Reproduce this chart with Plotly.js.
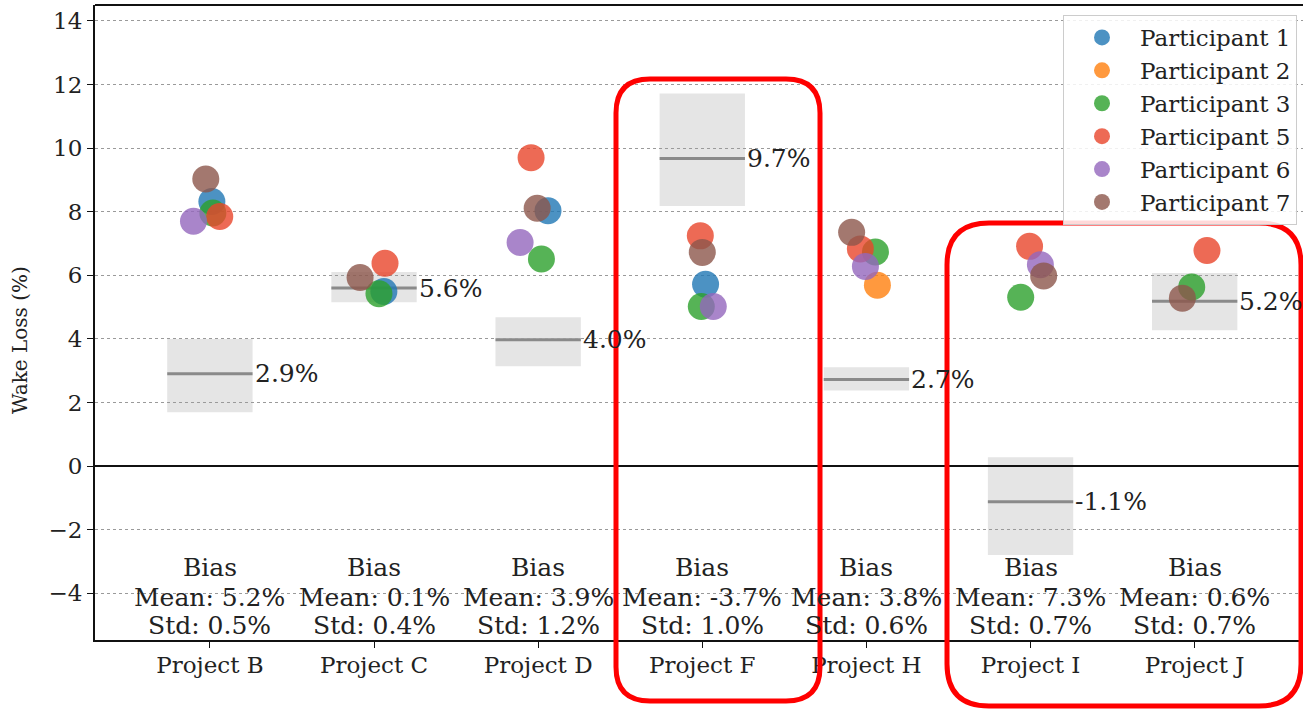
<!DOCTYPE html>
<html>
<head>
<meta charset="utf-8">
<script src="https://cdn.plot.ly/plotly-3.0.1.min.js"></script>
<style>html,body{margin:0;padding:0;background:#fff;}#chart{width:1303px;height:710px;}</style>
</head>
<body>
<div id="chart"></div>
<script>
// ---- data ----
const projects = ["Project B", "Project C", "Project D", "Project F", "Project H", "Project I", "Project J"];
const participants = ["Participant 1", "Participant 2", "Participant 3", "Participant 5", "Participant 6", "Participant 7"];
const colors = ["#1f77b4", "#ff7f0e", "#2ca02c", "#e8452a", "#9467bd", "#8c564b"];

// wake loss per participant per project (null = no value)
const p1 = [8.32, 5.49, 8.03, 5.72, null, null, null];
const p2 = [null, null, null, null, 5.69, null, null];
const p3 = [7.96, 5.42, 6.51, 5.02, 6.73, 5.31, 5.63];
const p5 = [7.85, 6.38, 9.70, 7.24, 6.83, 6.91, 6.78];
const p6 = [7.70, null, 7.03, 5.02, 6.28, 6.33, null];
const p7 = [9.03, 5.93, 8.11, 6.72, 7.35, 5.98, 5.28];
// strip-plot jitter (category units)
const j1 = [0.012, 0.06, 0.06, 0.02, 0, 0, 0];
const j2 = [0, 0, 0, 0, 0.067, 0, 0];
const j3 = [0.018, 0.03, 0.02, -0.006, 0.055, -0.06, -0.018];
const j5 = [0.06, 0.067, -0.043, -0.012, -0.037, -0.006, 0.075];
const j6 = [-0.10, 0, -0.11, 0.067, -0.006, 0.06, 0];
const j7 = [-0.025, -0.085, -0.006, 0, -0.09, 0.08, -0.075];

// reference (grey band) values
const refMean = [2.9, 5.6, 3.97, 9.67, 2.72, -1.12, 5.18];
const refLow = [1.69, 5.15, 3.14, 8.18, 2.38, -2.80, 4.27];
const refHigh = [4.0, 6.1, 4.68, 11.72, 3.11, 0.28, 6.07];
const refLabels = ["2.9%", "5.6%", "4.0%", "9.7%", "2.7%", "-1.1%", "5.2%"];

const biasMean = ["5.2%", "0.1%", "3.9%", "-3.7%", "3.8%", "7.3%", "0.6%"];
const biasStd = ["0.5%", "0.4%", "1.2%", "1.0%", "0.6%", "0.7%", "0.7%"];

const yTicks = [-4, -2, 0, 2, 4, 6, 8, 10, 12, 14];

// ---- build ----
const FONT = "DejaVu Serif";
const series = [p1, p2, p3, p5, p6, p7];
const jit = [j1, j2, j3, j5, j6, j7];
const idx = projects.map((_, i) => i);

const traces = series.map((vals, k) => {
  const xs = [], ys = [];
  vals.forEach((v, i) => { if (v !== null) { xs.push(i + jit[k][i]); ys.push(v); } });
  return {
    type: "scatter", mode: "markers", name: participants[k],
    x: xs, y: ys,
    marker: {size: 27, color: colors[k], opacity: 0.8, line: {width: 0}},
    legendgroup: "g" + k,
    hoverinfo: "x+y"
  };
});

const HW = 0.26;
const shapes = [];
idx.forEach(i => {
  shapes.push({type: "rect", xref: "x", yref: "y", x0: i - HW, x1: i + HW, y0: refLow[i], y1: refHigh[i],
    fillcolor: "#e5e5e5", line: {width: 0}, layer: "below"});
  shapes.push({type: "line", xref: "x", yref: "y", x0: i - HW, x1: i + HW, y0: refMean[i], y1: refMean[i],
    line: {color: "#8a8a8a", width: 3}, layer: "below"});
});
// zero line
shapes.push({type: "line", xref: "paper", yref: "y", x0: 0, x1: 1, y0: 0, y1: 0, line: {color: "#111", width: 2}});
// top frame
shapes.push({type: "line", xref: "paper", yref: "paper", x0: 0, x1: 1, y0: 1, y1: 1, line: {color: "#111", width: 2}});

// red highlight frames (pixel geometry -> paper coordinates)
const L = 95, R = 1303, T = 5, B = 640;
const PX = p => (p - L) / (R - L);
const PY = p => (B - p) / (B - T);
function roundRect(x0, y0, x1, y1, r) {
  const pts = [
    ["M", x0 + r, y0], ["L", x1 - r, y0], ["Q", x1, y0, x1, y0 + r], ["L", x1, y1 - r],
    ["Q", x1, y1, x1 - r, y1], ["L", x0 + r, y1], ["Q", x0, y1, x0, y1 - r], ["L", x0, y0 + r],
    ["Q", x0, y0, x0 + r, y0]
  ];
  return pts.map(p => {
    const c = p[0]; const out = [];
    for (let j = 1; j < p.length; j += 2) out.push(PX(p[j]).toFixed(5) + "," + PY(p[j + 1]).toFixed(5));
    return c + out.join(" ");
  }).join(" ") + " Z";
}
shapes.push({type: "path", xref: "paper", yref: "paper", path: roundRect(616, 79, 820, 701, 34),
  line: {color: "#ff0000", width: 5}, fillcolor: "rgba(0,0,0,0)"});
shapes.push({type: "path", xref: "paper", yref: "paper", path: roundRect(947, 223, 1301, 706, 42),
  line: {color: "#ff0000", width: 5}, fillcolor: "rgba(0,0,0,0)"});

const annotations = [];
const biasY = [-3.18, -4.12, -5.0];
idx.forEach(i => {
  annotations.push({x: i + HW, y: refMean[i], xref: "x", yref: "y", text: refLabels[i], showarrow: false,
    xanchor: "left", yanchor: "middle", xshift: 0, font: {family: FONT, size: 25, color: "#222"}});
  const lines = ["Bias", "Mean: " + biasMean[i], "Std: " + biasStd[i]];
  lines.forEach((t, k) => {
    annotations.push({x: i, y: biasY[k], xref: "x", yref: "y", showarrow: false, xanchor: "center", yanchor: "middle",
      text: t, font: {family: FONT, size: 25, color: "#222"}});
  });
});
annotations.push({xref: "paper", yref: "paper", x: -0.062, y: PY(340), text: "Wake Loss (%)", textangle: -90,
  showarrow: false, xanchor: "center", yanchor: "middle", font: {family: FONT, size: 20, color: "#222"}});

const layout = {
  width: 1303, height: 710,
  margin: {l: L, r: 0, t: T, b: 710 - B},
  paper_bgcolor: "#fff", plot_bgcolor: "#fff",
  font: {family: FONT, color: "#222"},
  showlegend: true,
  legend: {x: PX(1063), y: PY(15), xanchor: "left", yanchor: "top",
    bgcolor: "rgba(255,255,255,0.85)", bordercolor: "#cccccc", borderwidth: 1,
    font: {family: FONT, size: 23, color: "#222"}, tracegroupgap: 0, itemsizing: "trace", itemwidth: 66},
  xaxis: {range: [-0.70, 6.66], tickmode: "array", tickvals: idx, ticktext: projects,
    showgrid: false, zeroline: false, showline: true, linecolor: "#111", linewidth: 2,
    ticks: "outside", ticklen: 6, tickcolor: "#111", ticklabelstandoff: -3,
    tickfont: {family: FONT, size: 23, color: "#222"}},
  yaxis: {range: [-5.47, 14.5], tickmode: "array", tickvals: yTicks, ticktext: yTicks.map(v => v < 0 ? "\u2212" + Math.abs(v) : String(v)),
    showgrid: true, gridcolor: "#9a9a9a", griddash: "dot", gridwidth: 1, zeroline: false,
    showline: true, linecolor: "#111", linewidth: 2,
    ticks: "outside", ticklen: 6, tickcolor: "#111", tickfont: {family: FONT, size: 23, color: "#222"}},
  shapes: shapes,
  annotations: annotations
};

Plotly.newPlot("chart", traces, layout, {displayModeBar: false, staticPlot: true});
</script>
</body>
</html>
